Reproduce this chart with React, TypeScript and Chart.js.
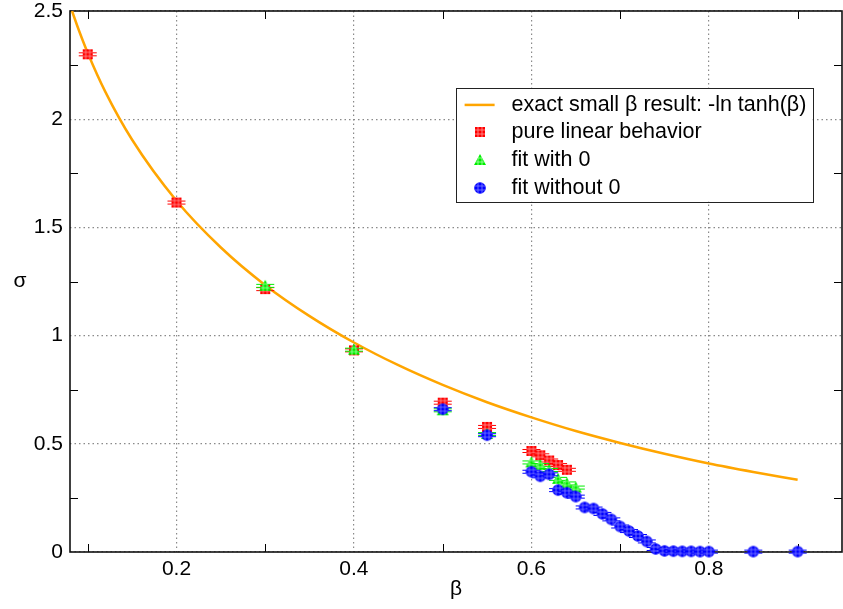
import React, { useEffect, useRef } from "react";
import { Chart, registerables } from "chart.js";

Chart.register(...registerables);

// ---------- data ----------
const curveLabel = "exact small β result: -ln tanh(β)";
const curveBeta = [0.0823, 0.09, 0.1, 0.12, 0.15, 0.2, 0.25, 0.3, 0.35, 0.4, 0.45, 0.5, 0.55, 0.6, 0.65, 0.7, 0.75, 0.8, 0.85, 0.9];
const curveSigma = [2.5, 2.411, 2.306, 2.125, 1.905, 1.623, 1.407, 1.233, 1.09, 0.968, 0.863, 0.772, 0.692, 0.622, 0.559, 0.504, 0.454, 0.409, 0.37, 0.334];

const linearLabel = "pure linear behavior";
const linearBeta = [0.1, 0.2, 0.3, 0.4, 0.5, 0.55, 0.6, 0.61, 0.62, 0.63, 0.64];
const linearSigma = [2.3, 1.615, 1.215, 0.932, 0.69, 0.578, 0.467, 0.447, 0.423, 0.402, 0.38];

const withZeroLabel = "fit with 0";
const withZeroBeta = [0.3, 0.4, 0.5, 0.55, 0.6, 0.61, 0.62, 0.63, 0.64, 0.65];
const withZeroSigma = [1.23, 0.935, 0.655, 0.545, 0.414, 0.402, 0.379, 0.338, 0.317, 0.298];

const withoutZeroLabel = "fit without 0";
const withoutZeroBeta = [0.5, 0.55, 0.6, 0.61, 0.62, 0.63, 0.64, 0.65, 0.66, 0.67, 0.68, 0.69, 0.7, 0.71, 0.72, 0.73, 0.74, 0.75, 0.76, 0.77, 0.78, 0.79, 0.8, 0.85, 0.9];
const withoutZeroSigma = [0.66, 0.54, 0.371, 0.35, 0.359, 0.286, 0.274, 0.256, 0.206, 0.201, 0.176, 0.151, 0.118, 0.097, 0.074, 0.049, 0.014, 0.005, 0.004, 0.003, 0.003, 0.002, 0.002, 0.002, 0.002];

const xMajorTicks = [0.2, 0.4, 0.6, 0.8];
const xMinorTicks = [0.1, 0.3, 0.5, 0.7, 0.9];
const yMajorTicks = [0, 0.5, 1, 1.5, 2, 2.5];
const yMinorTicks = [0.25, 0.75, 1.25, 1.75, 2.25];
const xLabels = ["0.2", "0.4", "0.6", "0.8"];
const yLabels = ["0", "0.5", "1", "1.5", "2", "2.5"];
const xTitle = "β";
const yTitle = "σ";

const X_MIN = 0.08;
const X_MAX = 0.95;
const Y_MIN = 0;
const Y_MAX = 2.5;

// ---------- styles ----------
const FONT = "'Liberation Sans', Arial, Helvetica, sans-serif";
const FONT_SIZE = 21;
const ORANGE = "#ffa500";

type Kind = "square" | "triangle" | "circle";

function makeMarker(kind: Kind, fill: string, light: string, withBar: boolean) {
  const c = document.createElement("canvas");
  c.width = 22;
  c.height = 16;
  const g = c.getContext("2d")!;
  const cx = 11;
  const cy = 8;
  if (withBar) {
    g.strokeStyle = fill;
    g.lineWidth = 1;
    g.beginPath();
    g.moveTo(2, cy - 1.5);
    g.lineTo(20, cy - 1.5);
    g.moveTo(2, cy + 1.5);
    g.lineTo(20, cy + 1.5);
    g.stroke();
  }
  g.beginPath();
  if (kind === "square") {
    g.rect(cx - 5, cy - 5, 10, 10);
  } else if (kind === "triangle") {
    g.moveTo(cx, cy - 6);
    g.lineTo(cx + 6, cy + 5);
    g.lineTo(cx - 6, cy + 5);
    g.closePath();
  } else {
    g.arc(cx, cy, 5.8, 0, Math.PI * 2);
  }
  g.fillStyle = fill;
  g.fill();
  g.save();
  g.clip();
  g.strokeStyle = light;
  g.lineWidth = 0.8;
  g.beginPath();
  for (const d of [-2, 2]) {
    g.moveTo(cx + d, cy - 7);
    g.lineTo(cx + d, cy + 7);
    g.moveTo(cx - 7, cy + d);
    g.lineTo(cx + 7, cy + d);
  }
  g.stroke();
  g.restore();
  return c;
}

function pts(xs: number[], ys: number[]) {
  return xs.map((x, i) => ({ x, y: ys[i] }));
}

export default function App() {
  const ref = useRef<HTMLCanvasElement | null>(null);

  useEffect(() => {
    const canvas = ref.current;
    if (!canvas) return;

    const redM = makeMarker("square", "#ff0000", "#ff9a9a", true);
    const greenM = makeMarker("triangle", "#00ee00", "#a8ffa8", true);
    const blueM = makeMarker("circle", "#0000ff", "#8080ff", true);
    const redL = makeMarker("square", "#ff0000", "#ff9a9a", false);
    const greenL = makeMarker("triangle", "#00ee00", "#a8ffa8", false);
    const blueL = makeMarker("circle", "#0000ff", "#8080ff", false);

    const framePlugin = {
      id: "frame",
      beforeDatasetsDraw(chart: any) {
        const { ctx, chartArea: a, scales } = chart;
        const xs = scales.x;
        const ys = scales.y;
        ctx.save();
        ctx.strokeStyle = "#000";
        ctx.lineWidth = 1;
        ctx.beginPath();
        const tl = 8;
        for (const v of xMinorTicks) {
          const px = Math.round(xs.getPixelForValue(v)) + 0.5;
          ctx.moveTo(px, a.bottom);
          ctx.lineTo(px, a.bottom - tl);
          ctx.moveTo(px, a.top);
          ctx.lineTo(px, a.top + tl);
        }
        for (const v of yMinorTicks) {
          const py = Math.round(ys.getPixelForValue(v)) + 0.5;
          ctx.moveTo(a.left, py);
          ctx.lineTo(a.left + tl, py);
          ctx.moveTo(a.right, py);
          ctx.lineTo(a.right - tl, py);
        }
        ctx.stroke();
        ctx.lineWidth = 1.6;
        ctx.strokeStyle = "#111";
        ctx.strokeRect(a.left, a.top, a.right - a.left, a.bottom - a.top);
        // upright y-axis title
        ctx.fillStyle = "#000";
        ctx.font = `${FONT_SIZE}px ${FONT}`;
        ctx.textAlign = "center";
        ctx.textBaseline = "middle";
        ctx.fillText(yTitle, 20, (a.top + a.bottom) / 2);
        ctx.restore();
      },
    };

    const legendPlugin = {
      id: "boxLegend",
      afterDraw(chart: any) {
        const { ctx, chartArea: a } = chart;
        const w = a.right - a.left;
        const h = a.bottom - a.top;
        const bx = a.left + w * 0.4995;
        const by = a.top + h * 0.142;
        const bw = w * 0.462;
        const bh = h * 0.21;
        ctx.save();
        ctx.fillStyle = "#fff";
        ctx.fillRect(bx, by, bw, bh);
        ctx.strokeStyle = "#222";
        ctx.lineWidth = 1;
        ctx.strokeRect(Math.round(bx) + 0.5, Math.round(by) + 0.5, Math.round(bw), Math.round(bh));
        const rowH = bh / 4.12;
        const sampleX = bx + 24;
        const textX = bx + 56;
        ctx.font = `21.5px ${FONT}`;
        ctx.textBaseline = "middle";
        ctx.fillStyle = "#000";
        const labels = [curveLabel, linearLabel, withZeroLabel, withoutZeroLabel];
        const marks = [null, redL, greenL, blueL];
        labels.forEach((lab, i) => {
          const ry = by + rowH * (i + 0.62);
          if (i === 0) {
            ctx.strokeStyle = ORANGE;
            ctx.lineWidth = 2.5;
            ctx.beginPath();
            ctx.moveTo(sampleX - 15, ry);
            ctx.lineTo(sampleX + 15, ry);
            ctx.stroke();
          } else {
            const m = marks[i] as HTMLCanvasElement;
            ctx.drawImage(m, Math.round(sampleX - m.width / 2), Math.round(ry - m.height / 2));
          }
          ctx.fillText(lab, textX, ry);
        });
        ctx.restore();
      },
    };

    const chart = new Chart(canvas, {
      type: "scatter",
      data: {
        datasets: [
          {
            label: curveLabel,
            data: pts(curveBeta, curveSigma),
            showLine: true,
            borderColor: ORANGE,
            borderWidth: 2.5,
            pointRadius: 0,
            cubicInterpolationMode: "monotone",
            order: 4,
          } as any,
          {
            label: linearLabel,
            data: pts(linearBeta, linearSigma),
            pointStyle: redM,
            pointRadius: 5,
            clip: false,
            order: 3,
          } as any,
          {
            label: withZeroLabel,
            data: pts(withZeroBeta, withZeroSigma),
            pointStyle: greenM,
            pointRadius: 5,
            clip: false,
            order: 2,
          } as any,
          {
            label: withoutZeroLabel,
            data: pts(withoutZeroBeta, withoutZeroSigma),
            pointStyle: blueM,
            pointRadius: 5,
            clip: false,
            order: 1,
          } as any,
        ],
      },
      options: {
        animation: false,
        responsive: true,
        maintainAspectRatio: false,
        events: [],
        layout: { autoPadding: false, padding: { top: 11, right: 1, left: 0, bottom: 0 } },
        plugins: {
          legend: { display: false },
          tooltip: { enabled: false },
        },
        scales: {
          x: {
            type: "linear",
            min: X_MIN,
            max: X_MAX,
            afterBuildTicks: (s: any) => {
              s.ticks = xMajorTicks.map((v) => ({ value: v }));
            },
            afterFit: (s: any) => {
              s.height = 57;
              s.paddingLeft = 0;
              s.paddingRight = 0;
              s.paddingTop = 0;
              s.paddingBottom = 0;
            },
            ticks: {
              autoSkip: false,
              maxRotation: 0,
              padding: 5,
              color: "#000",
              font: { family: FONT, size: FONT_SIZE },
              callback: (v: any) => {
                const i = xMajorTicks.indexOf(Number(v));
                return i >= 0 ? xLabels[i] : "";
              },
            },
            grid: { color: "#8a8a8a", lineWidth: 1.2, drawTicks: false },
            border: { display: false, dash: [1.5, 3] },
            title: {
              display: true,
              text: xTitle,
              color: "#000",
              font: { family: FONT, size: FONT_SIZE },
              padding: { top: 0, bottom: 7 },
            },
          },
          y: {
            type: "linear",
            min: Y_MIN,
            max: Y_MAX,
            afterBuildTicks: (s: any) => {
              s.ticks = yMajorTicks.map((v) => ({ value: v }));
            },
            afterFit: (s: any) => {
              s.width = 70;
              s.paddingLeft = 0;
              s.paddingRight = 0;
              s.paddingTop = 0;
              s.paddingBottom = 0;
            },
            ticks: {
              autoSkip: false,
              padding: 7,
              color: "#000",
              font: { family: FONT, size: FONT_SIZE },
              callback: (v: any) => {
                const i = yMajorTicks.indexOf(Number(v));
                return i >= 0 ? yLabels[i] : "";
              },
            },
            grid: { color: "#8a8a8a", lineWidth: 1.2, drawTicks: false },
            border: { display: false, dash: [1.5, 3] },
            title: { display: false },
          },
        },
      },
      plugins: [framePlugin, legendPlugin],
    });

    return () => chart.destroy();
  }, []);

  return (
    <div style={{ position: "fixed", left: 0, top: 0, width: 843, height: 609, background: "#fff" }}>
      <canvas ref={ref} />
    </div>
  );
}
